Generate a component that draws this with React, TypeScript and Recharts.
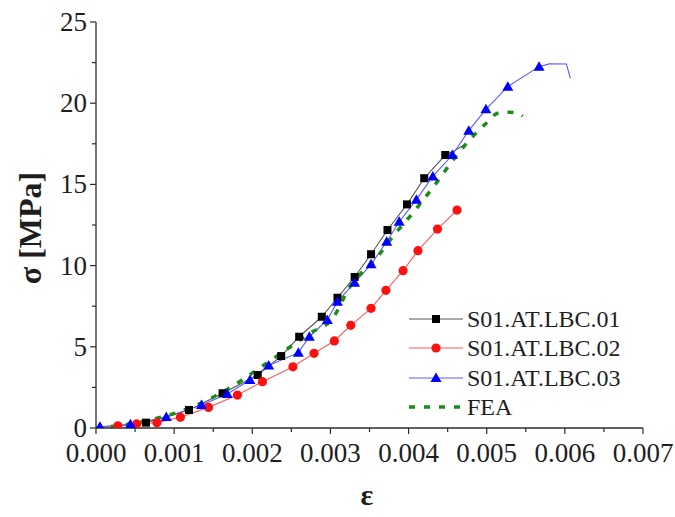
import { ComposedChart, Line, Scatter, XAxis, YAxis, Legend } from 'recharts';

// strain (ε) / stress (σ, MPa) pairs
const lbc01Marks = [
  { e: 0.00064, s: 0.33 }, { e: 0.00119, s: 1.11 }, { e: 0.00162, s: 2.14 }, { e: 0.00207, s: 3.26 },
  { e: 0.00237, s: 4.43 }, { e: 0.0026, s: 5.62 }, { e: 0.00289, s: 6.85 }, { e: 0.00309, s: 8.02 },
  { e: 0.00331, s: 9.3 }, { e: 0.00352, s: 10.7 }, { e: 0.00373, s: 12.19 }, { e: 0.00398, s: 13.77 },
  { e: 0.0042, s: 15.38 }, { e: 0.00447, s: 16.81 },
];
const lbc01Line = [
  { e: 0, s: 0.05 }, { e: 0.0003, s: 0.12 }, ...lbc01Marks, { e: 0.00458, s: 17.05 }, { e: 0.0047, s: 17.4 },
];

const lbc02Marks = [
  { e: 0.00028, s: 0.14 }, { e: 0.00052, s: 0.25 }, { e: 0.00078, s: 0.33 }, { e: 0.00108, s: 0.66 },
  { e: 0.00144, s: 1.27 }, { e: 0.00181, s: 2.03 }, { e: 0.00213, s: 2.85 }, { e: 0.00252, s: 3.77 },
  { e: 0.00279, s: 4.6 }, { e: 0.00305, s: 5.36 }, { e: 0.00326, s: 6.32 }, { e: 0.00352, s: 7.37 },
  { e: 0.00371, s: 8.48 }, { e: 0.00393, s: 9.69 }, { e: 0.00412, s: 10.92 }, { e: 0.00437, s: 12.25 },
  { e: 0.00462, s: 13.42 },
];
const lbc02Line = [{ e: 0, s: 0.05 }, ...lbc02Marks];

const lbc03Marks = [
  { e: 0.00005, s: 0.08 }, { e: 0.00044, s: 0.23 }, { e: 0.0009, s: 0.68 }, { e: 0.00135, s: 1.42 },
  { e: 0.00168, s: 2.09 }, { e: 0.00197, s: 2.96 }, { e: 0.00221, s: 3.85 }, { e: 0.00259, s: 4.64 },
  { e: 0.00273, s: 5.62 }, { e: 0.00296, s: 6.65 }, { e: 0.00309, s: 7.78 }, { e: 0.00331, s: 8.95 },
  { e: 0.00352, s: 10.08 }, { e: 0.00372, s: 11.47 }, { e: 0.00388, s: 12.7 }, { e: 0.0041, s: 14.06 },
  { e: 0.00431, s: 15.49 }, { e: 0.00456, s: 16.81 }, { e: 0.00477, s: 18.31 }, { e: 0.00499, s: 19.62 },
  { e: 0.00527, s: 21.02 }, { e: 0.00567, s: 22.25 },
];
const lbc03Line = [
  { e: 0, s: 0.08 }, ...lbc03Marks, { e: 0.0058, s: 22.42 }, { e: 0.00602, s: 22.41 }, { e: 0.00607, s: 21.53 },
];

const feaLine = [
  { e: 0, s: 0 }, { e: 0.00044, s: 0.25 }, { e: 0.00078, s: 0.6 }, { e: 0.00107, s: 1.0 },
  { e: 0.00163, s: 2.24 }, { e: 0.00218, s: 3.98 }, { e: 0.00246, s: 4.91 }, { e: 0.00274, s: 5.85 },
  { e: 0.00302, s: 6.7 }, { e: 0.00325, s: 8.7 }, { e: 0.00361, s: 10.59 }, { e: 0.00378, s: 11.68 },
  { e: 0.00405, s: 13.22 }, { e: 0.00432, s: 14.86 }, { e: 0.00457, s: 16.5 }, { e: 0.00483, s: 18.0 },
  { e: 0.00498, s: 18.7 }, { e: 0.00514, s: 19.38 }, { e: 0.00528, s: 19.45 }, { e: 0.0054, s: 19.38 },
  { e: 0.00546, s: 19.2 },
];

const xTicks = [
  0, 0.0005, 0.001, 0.0015, 0.002, 0.0025, 0.003, 0.0035,
  0.004, 0.0045, 0.005, 0.0055, 0.006, 0.0065, 0.007,
];
const yTicks = [0, 2.5, 5, 7.5, 10, 12.5, 15, 17.5, 20, 22.5, 25];
const legendLabels = ['S01.AT.LBC.01', 'S01.AT.LBC.02', 'S01.AT.LBC.03', 'FEA'];

const W = 675;
const H = 517;
const PLOT = { left: 96, right: 643, top: 22, bottom: 428 };
const SERIF = '"Times New Roman", "Liberation Serif", serif';
const AXIS = '#2b2b2b';
const TEXT = '#1e1e1e';
const FEA_DASH = '6 9';

const isMajorX = (v: number) => Math.abs(v * 1000 - Math.round(v * 1000)) < 1e-6;
const isMajorY = (v: number) => v % 5 === 0;

function BottomTick({ x, payload }: any) {
  const v = payload.value;
  const major = isMajorX(v);
  return (
    <g>
      <line x1={x} x2={x} y1={PLOT.bottom} y2={PLOT.bottom + (major ? 6 : 4)} stroke={AXIS} strokeWidth={1.2} />
      {major && (
        <text x={x} y={PLOT.bottom + 34} textAnchor="middle" fontSize={27} fontFamily={SERIF} fill={TEXT}>
          {v.toFixed(3)}
        </text>
      )}
    </g>
  );
}

function LeftTick({ y, payload }: any) {
  const v = payload.value;
  const major = isMajorY(v);
  return (
    <g>
      <line x1={PLOT.left - (major ? 6 : 4)} x2={PLOT.left} y1={y} y2={y} stroke={AXIS} strokeWidth={1.2} />
      {major && (
        <text x={PLOT.left - 9} y={y + 9} textAnchor="end" fontSize={27} fontFamily={SERIF} fill={TEXT}>
          {v}
        </text>
      )}
    </g>
  );
}

// mirrored ticks on the top and right frame, pointing inward
function TopTick({ x, payload }: any) {
  const len = isMajorX(payload.value) ? 6 : 4;
  return <line x1={x} x2={x} y1={PLOT.top} y2={PLOT.top + len} stroke={AXIS} strokeWidth={1.2} />;
}

function RightTick({ y, payload }: any) {
  const len = isMajorY(payload.value) ? 6 : 4;
  return <line x1={PLOT.right - len} x2={PLOT.right} y1={y} y2={y} stroke={AXIS} strokeWidth={1.2} />;
}

const Square = ({ cx, cy, fill }: any) => <rect x={cx - 4} y={cy - 4} width={8} height={8} fill={fill} />;
const Dot = ({ cx, cy, fill }: any) => <circle cx={cx} cy={cy} r={4.6} fill={fill} />;
const Tri = ({ cx, cy, fill }: any) => (
  <polygon points={`${cx},${cy - 5.5} ${cx - 5.5},${cy + 4} ${cx + 5.5},${cy + 4}`} fill={fill} />
);

const series = [
  { line: '#555555', mark: '#000000', Shape: Square },
  { line: '#ff5a5a', mark: '#ff1010', Shape: Dot },
  { line: '#5a5aff', mark: '#0000ff', Shape: Tri },
];

function LegendBox() {
  const rowY = [19, 48, 78, 107];
  return (
    <svg width={245} height={122}>
      {series.map((s, i) => (
        <g key={i}>
          <line x1={9} x2={63} y1={rowY[i]} y2={rowY[i]} stroke={s.line} strokeWidth={1.2} />
          <s.Shape cx={36} cy={rowY[i]} fill={s.mark} />
        </g>
      ))}
      <line x1={9} x2={63} y1={rowY[3]} y2={rowY[3]} stroke="#1a8c1a" strokeWidth={3.5} strokeDasharray={FEA_DASH} />
      {legendLabels.map((t, i) => (
        <text key={t} x={67} y={rowY[i] + 8} fontSize={24} fontFamily={SERIF} fill={TEXT}>
          {t}
        </text>
      ))}
    </svg>
  );
}

export default function App() {
  const markSets = [lbc01Marks, lbc02Marks, lbc03Marks];
  const lineSets = [lbc01Line, lbc02Line, lbc03Line];
  return (
    <div style={{ position: 'absolute', left: 0, top: 0, width: W, height: H, background: '#fff' }}>
      <ComposedChart
        width={W}
        height={H}
        margin={{ top: PLOT.top, right: W - PLOT.right, bottom: H - PLOT.bottom - 40, left: PLOT.left - 60 }}
      >
        <XAxis
          dataKey="e"
          type="number"
          domain={[0, 0.007]}
          ticks={xTicks}
          interval={0}
          height={40}
          tickLine={false}
          axisLine={{ stroke: AXIS, strokeWidth: 1.3 }}
          tick={<BottomTick />}
          allowDataOverflow
        />
        <YAxis
          dataKey="s"
          type="number"
          domain={[0, 25]}
          ticks={yTicks}
          interval={0}
          width={60}
          tickLine={false}
          axisLine={{ stroke: AXIS, strokeWidth: 1.3 }}
          tick={<LeftTick />}
          allowDataOverflow
        />
        <XAxis
          xAxisId="top"
          orientation="top"
          type="number"
          domain={[0, 0.007]}
          ticks={xTicks}
          interval={0}
          height={0}
          tickLine={false}
          axisLine={{ stroke: AXIS, strokeWidth: 1.3 }}
          tick={<TopTick />}
        />
        <YAxis
          yAxisId="right"
          orientation="right"
          type="number"
          domain={[0, 25]}
          ticks={yTicks}
          interval={0}
          width={0}
          tickLine={false}
          axisLine={{ stroke: AXIS, strokeWidth: 1.3 }}
          tick={<RightTick />}
        />
        <Legend
          layout="horizontal"
          verticalAlign="middle"
          align="center"
          content={() => <LegendBox />}
          wrapperStyle={{ position: 'absolute', left: 400, top: 300, width: 245, height: 122 }}
        />
        {series.map((s, i) => (
          <Line
            key={`line-${i}`}
            data={lineSets[i]}
            dataKey="s"
            type="linear"
            stroke={s.line}
            strokeWidth={1.1}
            dot={false}
            activeDot={false}
            legendType="none"
            isAnimationActive={false}
          />
        ))}
        {series.map((s, i) => (
          <Scatter
            key={`mark-${i}`}
            data={markSets[i]}
            dataKey="s"
            fill={s.mark}
            shape={(p: any) => <s.Shape cx={p.cx} cy={p.cy} fill={s.mark} />}
            legendType="none"
            isAnimationActive={false}
          />
        ))}
        <Line
          data={feaLine}
          dataKey="s"
          type="monotone"
          stroke="#1a8c1a"
          strokeWidth={3.5}
          strokeDasharray={FEA_DASH}
          dot={false}
          activeDot={false}
          legendType="none"
          isAnimationActive={false}
        />
      </ComposedChart>
      <div
        style={{
          position: 'absolute',
          left: 30,
          top: 228,
          transform: 'translate(-50%, -50%) rotate(-90deg)',
          whiteSpace: 'nowrap',
          fontFamily: SERIF,
          fontWeight: 'bold',
          fontSize: 32,
          color: TEXT,
        }}
      >
        σ [MPa]
      </div>
      <div
        style={{
          position: 'absolute',
          left: 367,
          top: 495,
          transform: 'translate(-50%, -50%)',
          fontFamily: SERIF,
          fontWeight: 'bold',
          fontSize: 30,
          color: TEXT,
        }}
      >
        ε
      </div>
    </div>
  );
}
